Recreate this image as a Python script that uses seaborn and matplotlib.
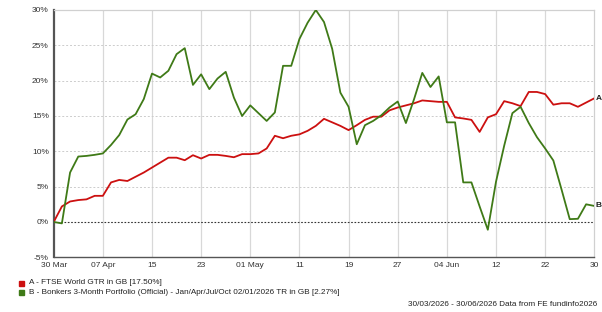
import matplotlib
matplotlib.use("Agg")
import matplotlib.pyplot as plt
import numpy as np
import pandas as pd
import seaborn as sns

# trading days 30 Mar - 30 Jun 2026 (weekdays)
dates = pd.bdate_range("2026-03-30", "2026-06-30")

ftse_world = [
    0.0, 2.2, 2.9, 3.1, 3.2, 3.7, 3.7, 5.6, 5.95, 5.8,
    6.4, 7.0, 7.7, 8.4, 9.1, 9.1, 8.74, 9.45, 8.98, 9.5,
    9.5, 9.35, 9.16, 9.6, 9.6, 9.7, 10.4, 12.2, 11.85, 12.2,
    12.4, 12.9, 13.6, 14.6, 14.1, 13.6, 13.0, 13.7, 14.45, 14.9,
    14.9, 15.8, 16.2, 16.5, 16.8, 17.2, 17.1, 17.0, 17.0, 14.8,
    14.65, 14.45, 12.75, 14.8, 15.25, 17.1, 16.8, 16.4, 18.4, 18.4,
    18.1, 16.6, 16.8, 16.8, 16.3, 16.9, 17.5,
]
bonkers = [
    0.0, -0.2, 7.0, 9.26, 9.35, 9.5, 9.7, 10.9, 12.3, 14.5,
    15.25, 17.4, 21.0, 20.45, 21.4, 23.75, 24.6, 19.4, 20.9, 18.8,
    20.3, 21.25, 17.6, 15.0, 16.5, 15.4, 14.3, 15.5, 22.1, 22.1,
    25.9, 28.2, 30.0, 28.3, 24.5, 18.3, 16.3, 11.0, 13.7, 14.3,
    15.1, 16.2, 17.05, 14.0, 17.4, 21.1, 19.1, 20.6, 14.1, 14.1,
    5.6, 5.6, 2.2, -1.1, 5.7, 10.8, 15.4, 16.3, 14.0, 12.0,
    10.4, 8.7, 4.6, 0.4, 0.45, 2.5, 2.27,
]
series_names = ["A", "B"]
series_colors = ["#cc1010", "#3f7a17"]
legend_labels = [
    "A - FTSE World GTR in GB [17.50%]",
    "B - Bonkers 3-Month Portfolio (Official) - Jan/Apr/Jul/Oct 02/01/2026 TR in GB [2.27%]",
]
tick_labels = ["30 Mar", "07 Apr", "15", "23", "01 May", "11", "19", "27",
               "04 Jun", "12", "22", "30"]
y_ticks = [-5, 0, 5, 10, 15, 20, 25, 30]

n = len(dates)
df = pd.DataFrame({
    "idx": list(range(n)) * 2,
    "value": ftse_world + bonkers,
    "series": ["A"] * n + ["B"] * n,
})

sns.set_style("white")
plt.rcParams["font.family"] = ["Liberation Sans", "DejaVu Sans"]

fig = plt.figure(figsize=(6.02, 3.12), dpi=100)
ax = fig.add_axes([53.7 / 602, 1 - 257.3 / 312, (594.3 - 53.7) / 602, (257.3 - 10) / 312])

sns.lineplot(data=df, x="idx", y="value", hue="series", hue_order=series_names,
             palette=series_colors, linewidth=1.3, legend=False, ax=ax, zorder=3)

ax.set_xlim(0, n - 1)
ax.set_ylim(-5, 30)
ax.set_xticks(np.arange(0, n, 6))
ax.set_xticklabels(tick_labels)
ax.set_yticks(y_ticks)
ax.set_yticklabels([f"{v}%" for v in y_ticks])
ax.set_xlabel("")
ax.set_ylabel("")

ax.tick_params(axis="both", labelsize=6, colors="#333333", length=2.5, width=0.8, pad=1)
ax.tick_params(axis="x", direction="out")

for x in np.arange(6, n - 1, 6):
    ax.axvline(x, color="#d8d8d8", lw=0.9, zorder=1)
for y in [5, 10, 15, 20, 25]:
    ax.axhline(y, color="#cccccc", lw=0.7, ls=(0, (2, 2)), zorder=1)
ax.axhline(0, color="#333333", lw=0.8, ls=(0, (1.5, 1.5)), zorder=2)

for side in ["top", "right"]:
    ax.spines[side].set_color("#d0d0d0")
    ax.spines[side].set_linewidth(0.9)
ax.spines["left"].set_color("#555555")
ax.spines["left"].set_linewidth(1.6)
ax.spines["bottom"].set_color("#555555")
ax.spines["bottom"].set_linewidth(1.0)

# end-of-line series letters
for name, vals in zip(series_names, [ftse_world, bonkers]):
    ax.annotate(name, xy=(n - 1, vals[-1]), xytext=(1, 0), textcoords="offset points",
                fontsize=6, fontweight="bold", va="center", ha="left",
                color="#222222", annotation_clip=False)

# legend rows under the chart
for i, (lab, col) in enumerate(zip(legend_labels, series_colors)):
    ypos = 1 - (283 + i * 9) / 312
    fig.patches.append(plt.Rectangle((19 / 602, ypos - 2.5 / 312), 5 / 602, 5 / 312,
                                     transform=fig.transFigure, color=col))
    fig.text(29 / 602, ypos, lab, fontsize=5.9, va="center", ha="left", color="#222222")

fig.text(597 / 602, 1 - 305 / 312, "30/03/2026 - 30/06/2026 Data from FE fundinfo2026",
         fontsize=5.9, va="center", ha="right", color="#222222")

fig.savefig("out.png", dpi=100)
